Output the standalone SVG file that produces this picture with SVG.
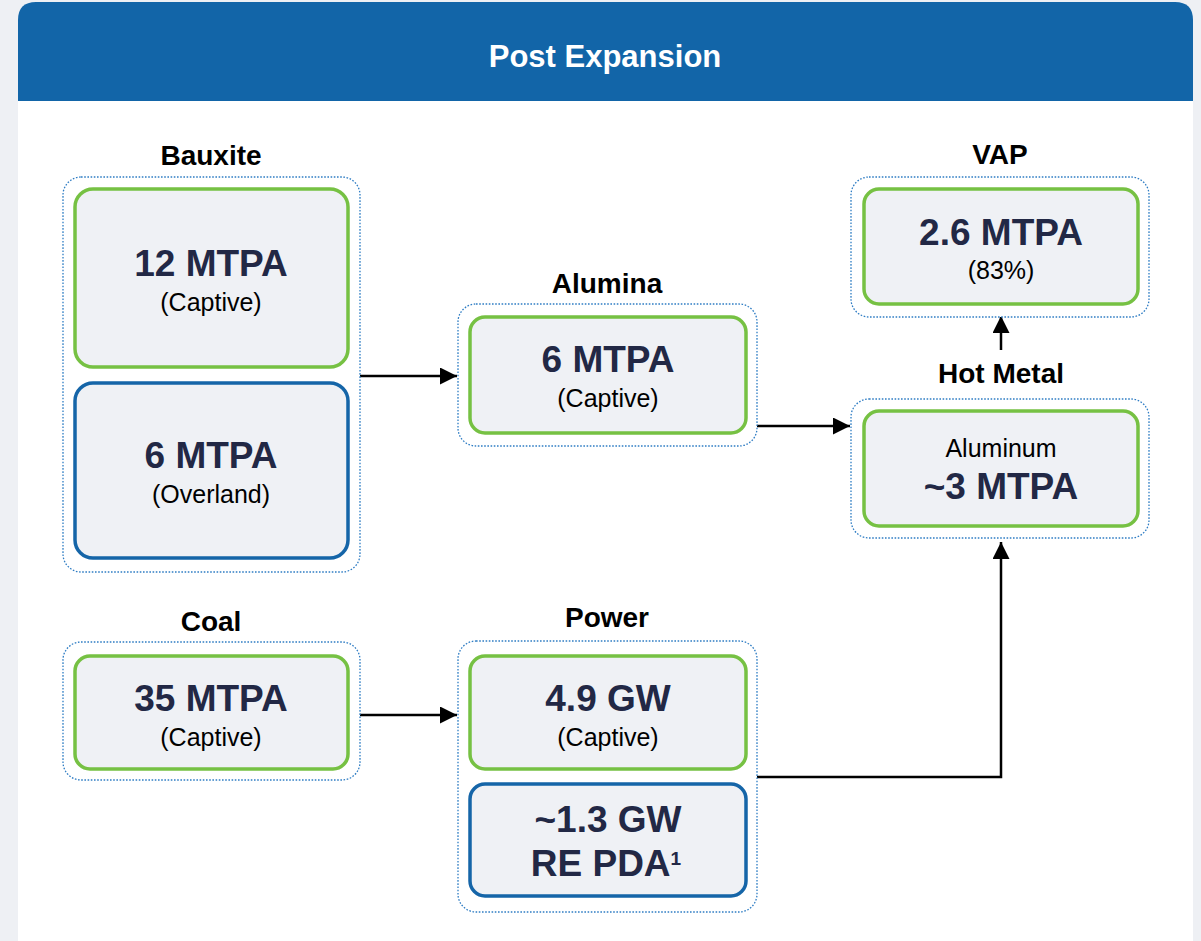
<svg xmlns="http://www.w3.org/2000/svg" width="1201" height="941" viewBox="0 0 1201 941">
  <style>
    .grp { fill: #ffffff; stroke: #2f7dc4; stroke-width: 1.3; stroke-dasharray: 1.6 1.6; }
    .box-g { fill: #eff1f5; stroke: #76c143; stroke-width: 3.5; }
    .box-b { fill: #eff1f5; stroke: #1565a8; stroke-width: 3.5; }
    .title { font-family: "Liberation Sans", Arial, sans-serif; font-weight: bold; font-size: 28px; fill: #000000; text-anchor: middle; }
    .val { font-family: "Liberation Sans", Arial, sans-serif; font-weight: bold; font-size: 37px; fill: #222845; text-anchor: middle; }
    .sub { font-family: "Liberation Sans", Arial, sans-serif; font-size: 25px; fill: #000000; text-anchor: middle; }
    .conn { fill: none; stroke: #000000; stroke-width: 2.5; }
  </style>
  <defs>
    <marker id="arrow" markerWidth="17" markerHeight="17" refX="17" refY="8.5" orient="auto" markerUnits="userSpaceOnUse">
      <path d="M0,0 L17,8.5 L0,17 Z" fill="#000000"/>
    </marker>
  </defs>

  <!-- page background and card -->
  <rect x="0" y="0" width="1201" height="941" fill="#eef0f4"/>
  <path d="M18,20 Q18,2 36,2 L1175,2 Q1193,2 1193,20 L1193,941 L18,941 Z" fill="#ffffff"/>
  <path d="M18,20 Q18,2 36,2 L1175,2 Q1193,2 1193,20 L1193,101 L18,101 Z" fill="#1265a8"/>
  <text x="605" y="67" font-family="Liberation Sans, Arial, sans-serif" font-weight="bold" font-size="31" fill="#ffffff" text-anchor="middle">Post Expansion</text>

  <!-- connectors -->
  <g id="connectors">
    <line class="conn" x1="360" y1="376" x2="457" y2="376" marker-end="url(#arrow)"/>
    <line class="conn" x1="757" y1="426" x2="850" y2="426" marker-end="url(#arrow)"/>
    <line class="conn" x1="360" y1="715" x2="457" y2="715" marker-end="url(#arrow)"/>
    <polyline class="conn" points="757,777 1001,777 1001,542" marker-end="url(#arrow)"/>
    <line class="conn" x1="1001" y1="350" x2="1001" y2="316" marker-end="url(#arrow)"/>
  </g>

  <!-- Bauxite -->
  <g id="bauxite">
    <text class="title" x="211" y="165">Bauxite</text>
    <rect class="grp" x="63" y="177" width="297" height="395" rx="18"/>
    <rect class="box-g" x="75" y="189" width="273" height="178" rx="18"/>
    <text class="val" x="211" y="276">12 MTPA</text>
    <text class="sub" x="211" y="311">(Captive)</text>
    <rect class="box-b" x="75" y="383" width="273" height="175" rx="18"/>
    <text class="val" x="211" y="468">6 MTPA</text>
    <text class="sub" x="211" y="503">(Overland)</text>
  </g>

  <!-- Alumina -->
  <g id="alumina">
    <text class="title" x="607" y="293">Alumina</text>
    <rect class="grp" x="458" y="304" width="299" height="142" rx="18"/>
    <rect class="box-g" x="470" y="317" width="276" height="116" rx="15"/>
    <text class="val" x="608" y="372">6 MTPA</text>
    <text class="sub" x="608" y="407">(Captive)</text>
  </g>

  <!-- VAP -->
  <g id="vap">
    <text class="title" x="1000" y="164">VAP</text>
    <rect class="grp" x="851" y="177" width="298" height="140" rx="18"/>
    <rect class="box-g" x="864" y="189" width="274" height="115" rx="15"/>
    <text class="val" x="1001" y="245">2.6 MTPA</text>
    <text class="sub" x="1001" y="279">(83%)</text>
  </g>

  <!-- Hot Metal -->
  <g id="hot-metal">
    <text class="title" x="1001" y="383">Hot Metal</text>
    <rect class="grp" x="851" y="399" width="298" height="139" rx="18"/>
    <rect class="box-g" x="864" y="411" width="274" height="115" rx="15"/>
    <text class="sub" x="1001" y="457">Aluminum</text>
    <text class="val" x="1001" y="499">~3 MTPA</text>
  </g>

  <!-- Coal -->
  <g id="coal">
    <text class="title" x="211" y="631">Coal</text>
    <rect class="grp" x="63" y="642" width="297" height="138" rx="18"/>
    <rect class="box-g" x="75" y="656" width="273" height="113" rx="15"/>
    <text class="val" x="211" y="711">35 MTPA</text>
    <text class="sub" x="211" y="746">(Captive)</text>
  </g>

  <!-- Power -->
  <g id="power">
    <text class="title" x="607" y="627">Power</text>
    <rect class="grp" x="458" y="641" width="299" height="271" rx="18"/>
    <rect class="box-g" x="470" y="656" width="276" height="113" rx="15"/>
    <text class="val" x="608" y="711">4.9 GW</text>
    <text class="sub" x="608" y="746">(Captive)</text>
    <rect class="box-b" x="470" y="784" width="276" height="112" rx="15"/>
    <text class="val" x="608" y="832">~1.3 GW</text>
    <text class="val" x="606" y="876">RE PDA<tspan font-size="19" dy="-11">1</tspan></text>
  </g>
</svg>
